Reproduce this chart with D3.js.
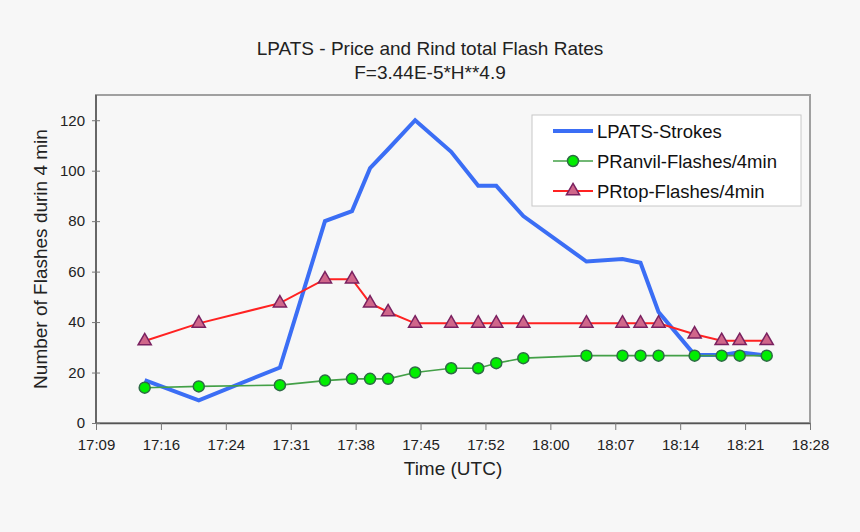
<!DOCTYPE html>
<html>
<head>
<meta charset="utf-8">
<script src="https://cdn.jsdelivr.net/npm/d3@7"></script>
<style>
	body { margin: 0; background: #f7f7f7; }
	svg { display: block; font-family: 'Liberation Sans', Arial, sans-serif; }
</style>
</head>
<body>
<div id="chart"></div>
<script>
// times in minutes of the day (17:15 = 1035)
const times = [1035, 1041, 1050, 1055, 1058, 1060, 1062, 1065, 1069, 1072, 1074, 1077, 1084, 1088, 1090, 1092, 1096, 1099, 1101, 1104]
const strokes = [17, 9, 22, 80, 84, 101, 108.5, 120, 107.5, 94, 94, 82, 64, 65, 63.5, 44, 27, 27, 28, 26.7]
const anvil = [14, 14.5, 15, 16.8, 17.5, 17.5, 17.5, 20, 21.7, 21.7, 23.7, 25.7, 26.7, 26.7, 26.7, 26.7, 26.7, 26.7, 26.7, 26.7]
const top4 = [32.5, 39.5, 47.5, 57, 57, 47.5, 44, 39.5, 39.5, 39.5, 39.5, 39.5, 39.5, 39.5, 39.5, 39.5, 35.2, 32.6, 32.6, 32.6]

const xTickLabels = ['17:09', '17:16', '17:24', '17:31', '17:38', '17:45', '17:52', '18:00', '18:07', '18:14', '18:21', '18:28']
const yTicks = [0, 20, 40, 60, 80, 100, 120]
const seriesNames = ['LPATS-Strokes', 'PRanvil-Flashes/4min', 'PRtop-Flashes/4min']

const width = 860
const height = 532
const margin = { left: 96, right: 50, top: 95, bottom: 109 }

const xStart = 1029.6
const xStep = 7.2
const x = d3.scaleLinear()
	.domain([xStart, xStart + xStep * (xTickLabels.length - 1)])
	.range([margin.left, width - margin.right])
const y = d3.scaleLinear().domain([0, 130]).range([height - margin.bottom, margin.top])

const svg = d3.select('#chart').append('svg').attr('width', width).attr('height', height)

svg.append('rect').attr('width', width).attr('height', height).attr('fill', '#f7f7f7')

// plot area frame
svg.append('rect')
	.attr('x', margin.left)
	.attr('y', margin.top)
	.attr('width', width - margin.left - margin.right)
	.attr('height', height - margin.top - margin.bottom)
	.attr('fill', '#f7f7f7')
	.attr('stroke', '#a0a0a0')
	.attr('stroke-width', 2)

// axes
const xAxis = d3.axisBottom(x)
	.tickValues(xTickLabels.map((d, i) => xStart + i * xStep))
	.tickFormat((d, i) => xTickLabels[i])
	.tickSize(7)
	.tickSizeOuter(0)
const gx = svg.append('g').attr('transform', `translate(0,${y(0)})`).call(xAxis)
gx.select('.domain').attr('stroke', '#555').attr('stroke-width', 1.5)
gx.selectAll('.tick line').attr('stroke', '#777')
gx.selectAll('text').attr('font-size', 15).attr('fill', '#222').attr('dy', '1.15em')

const yAxis = d3.axisLeft(y).tickValues(yTicks).tickSize(0).tickPadding(11)
const gy = svg.append('g').attr('transform', `translate(${margin.left},0)`).call(yAxis)
gy.select('.domain').attr('stroke', '#555').attr('stroke-width', 1.5).attr('d', `M0,${y(0)}V${margin.top}`)
gy.selectAll('.tick line').attr('x1', -4).attr('x2', 4).attr('stroke', '#777')
gy.selectAll('text').attr('font-size', 15).attr('fill', '#222')

// titles
svg.append('text').attr('x', 430).attr('y', 55).attr('text-anchor', 'middle')
	.attr('font-size', 19).attr('fill', '#222').text('LPATS - Price and Rind total Flash Rates')
svg.append('text').attr('x', 430).attr('y', 79).attr('text-anchor', 'middle')
	.attr('font-size', 19).attr('fill', '#222').text('F=3.44E-5*H**4.9')
svg.append('text').attr('x', 453).attr('y', 475).attr('text-anchor', 'middle')
	.attr('font-size', 19).attr('fill', '#222').text('Time (UTC)')
svg.append('text')
	.attr('transform', `translate(47,${(margin.top + y(0)) / 2}) rotate(-90)`)
	.attr('text-anchor', 'middle')
	.attr('font-size', 19).attr('fill', '#222').text('Number of Flashes durin 4 min')

const line = vals => d3.line().x((d, i) => x(times[i])).y(d => y(d))(vals)
const tri = d3.symbol().type(d3.symbolTriangle).size(75)

// LPATS strokes
svg.append('path').attr('d', line(strokes))
	.attr('fill', 'none').attr('stroke', '#3b6ef5').attr('stroke-width', 4).attr('stroke-linejoin', 'miter')

// anvil
svg.append('path').attr('d', line(anvil))
	.attr('fill', 'none').attr('stroke', '#43a047').attr('stroke-width', 1.6)
svg.append('g').selectAll('circle').data(anvil).join('circle')
	.attr('cx', (d, i) => x(times[i]))
	.attr('cy', d => y(d))
	.attr('r', 5.5)
	.attr('fill', '#00ee00')
	.attr('stroke', '#2e6b45')
	.attr('stroke-width', 1.5)

// top
svg.append('path').attr('d', line(top4))
	.attr('fill', 'none').attr('stroke', '#ff2222').attr('stroke-width', 2)
svg.append('g').selectAll('path').data(top4).join('path')
	.attr('d', tri)
	.attr('transform', (d, i) => `translate(${x(times[i])},${y(d)})`)
	.attr('fill', '#d0668a')
	.attr('stroke', '#7a2160')
	.attr('stroke-width', 1.5)

// legend
const lg = svg.append('g').attr('transform', 'translate(532,115)')
lg.append('rect').attr('width', 269).attr('height', 91)
	.attr('fill', '#fff').attr('stroke', '#c8c8c8').attr('stroke-width', 1)
const rows = lg.selectAll('g').data(seriesNames).join('g')
	.attr('transform', (d, i) => `translate(0,${16 + i * 30})`)
rows.append('text').attr('x', 65).attr('y', 6.5).attr('font-size', 18.5).attr('fill', '#111').text(d => d)
rows.append('line').attr('x1', 21).attr('x2', 61)
	.attr('stroke', (d, i) => ['#3b6ef5', '#43a047', '#ff2222'][i])
	.attr('stroke-width', (d, i) => [4, 1.6, 2][i])
rows.filter((d, i) => i === 1).append('circle').attr('cx', 41).attr('r', 5.5)
	.attr('fill', '#00ee00').attr('stroke', '#2e6b45').attr('stroke-width', 1.5)
rows.filter((d, i) => i === 2).append('path').attr('d', tri).attr('transform', 'translate(41,0)')
	.attr('fill', '#d0668a').attr('stroke', '#7a2160').attr('stroke-width', 1.5)
</script>
</body>
</html>
